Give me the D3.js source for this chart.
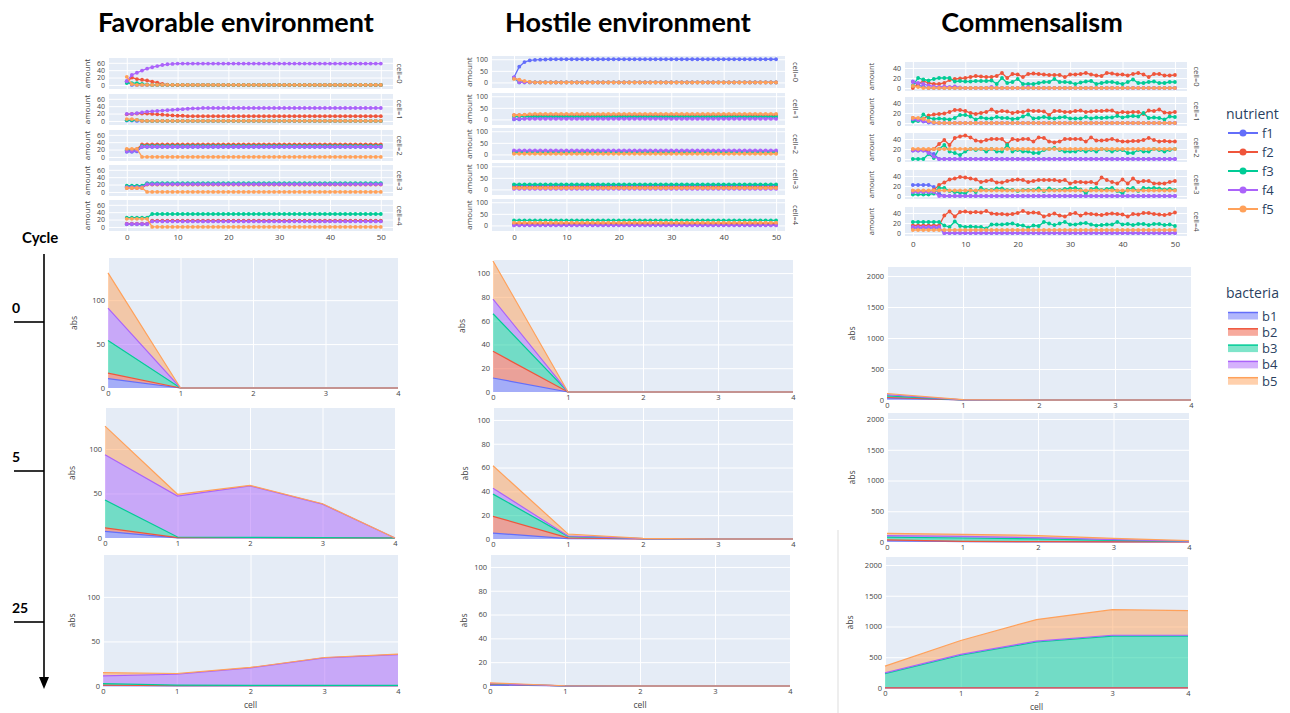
<!DOCTYPE html>
<html>
<head>
<meta charset="utf-8">
<script src="https://cdn.jsdelivr.net/npm/d3@7"></script>
<style>
  body { margin: 0; background: #fff; }
  svg { display: block; font-family: "Open Sans", sans-serif; }
</style>
</head>
<body>
<svg id="chart" width="1290" height="713"></svg>
<script>
// ---------- data ----------
const nutrients = ["f1", "f2", "f3", "f4", "f5"];
const bacteria = ["b1", "b2", "b3", "b4", "b5"];
const cells = [0, 1, 2, 3, 4];
const colors = ["#636efa", "#EF553B", "#00cc96", "#ab63fa", "#FFA15A"];
const envTitles = ["Favorable environment", "Hostile environment", "Commensalism"];
const cycleLabels = ["0", "5", "25"];

// nutrient amount per time step (0..50), one array per nutrient f1..f5
const favCell0 = [
  [10,0,0,0,0,0,0,0,0,0, 0,0,0,0,0,0,0,0,0,0, 0,0,0,0,0,0,0,0,0,0, 0,0,0,0,0,0,0,0,0,0, 0,0,0,0,0,0,0,0,0,0, 0],
  [8,20,16,14,12,9,6,3,1,0, 0,0,0,0,0,0,0,0,0,0, 0,0,0,0,0,0,0,0,0,0, 0,0,0,0,0,0,0,0,0,0, 0,0,0,0,0,0,0,0,0,0, 0],
  [5,5,5,3,1,0,0,0,0,0, 0,0,0,0,0,0,0,0,0,0, 0,0,0,0,0,0,0,0,0,0, 0,0,0,0,0,0,0,0,0,0, 0,0,0,0,0,0,0,0,0,0, 0],
  [10,27,33,39,44,48,51,54,56,57, 58,58,58,58,58,58,58,58,58,58, 58,58,58,58,58,58,58,58,58,58, 58,58,58,58,58,58,58,58,58,58, 58,58,58,58,58,58,58,58,58,58, 58],
  [22,2,0,0,0,0,0,0,0,0, 0,0,0,0,0,0,0,0,0,0, 0,0,0,0,0,0,0,0,0,0, 0,0,0,0,0,0,0,0,0,0, 0,0,0,0,0,0,0,0,0,0, 0]
];
const favCell1 = [
  [1,1,0,0,0,0,0,0,0,0, 0,0,0,0,0,0,0,0,0,0, 0,0,0,0,0,0,0,0,0,0, 0,0,0,0,0,0,0,0,0,0, 0,0,0,0,0,0,0,0,0,0, 0],
  [18,19,20,20,20,19,18,17,16,15, 14,14,13,13,13,13,13,13,13,13, 13,13,13,13,13,13,13,13,13,13, 13,13,13,13,13,13,13,13,13,13, 13,13,13,13,13,13,13,13,13,13, 13],
  [2,2,3,1,0,0,0,0,0,0, 0,0,0,0,0,0,0,0,0,0, 0,0,0,0,0,0,0,0,0,0, 0,0,0,0,0,0,0,0,0,0, 0,0,0,0,0,0,0,0,0,0, 0],
  [19,19,21,23,25,26,27,28,29,30, 31,32,33,34,34,35,35,35,35,35, 35,35,35,35,35,35,35,35,35,35, 35,35,35,35,35,35,35,35,35,35, 35,35,35,35,35,35,35,35,35,35, 35],
  [5,5,3,0,0,0,0,0,0,0, 0,0,0,0,0,0,0,0,0,0, 0,0,0,0,0,0,0,0,0,0, 0,0,0,0,0,0,0,0,0,0, 0,0,0,0,0,0,0,0,0,0, 0]
];
const favCell2 = [
  [14,14,15,27,27,27,27,27,27,27, 27,27,27,27,27,27,27,27,27,27, 27,27,27,27,27,27,27,27,27,27, 27,27,27,27,27,27,27,27,27,27, 27,27,27,27,27,27,27,27,27,27, 27],
  [20,20,21,34,34,34,34,34,34,34, 34,34,34,34,34,34,34,34,34,34, 34,34,34,34,34,34,34,34,34,34, 34,34,34,34,34,34,34,34,34,34, 34,34,34,34,34,34,34,34,34,34, 34],
  [18,18,18,30,30,30,30,30,30,30, 30,30,30,30,30,30,30,30,30,30, 30,30,30,30,30,30,30,30,30,30, 30,30,30,30,30,30,30,30,30,30, 30,30,30,30,30,30,30,30,30,30, 30],
  [16,16,17,28,28,28,28,28,28,28, 28,28,28,28,28,28,28,28,28,28, 28,28,28,28,28,28,28,28,28,28, 28,28,28,28,28,28,28,28,28,28, 28,28,28,28,28,28,28,28,28,28, 28],
  [22,22,22,0,0,0,0,0,0,0, 0,0,0,0,0,0,0,0,0,0, 0,0,0,0,0,0,0,0,0,0, 0,0,0,0,0,0,0,0,0,0, 0,0,0,0,0,0,0,0,0,0, 0]
];
const favCell3 = [
  [15,15,15,15,22,22,22,22,22,22, 22,22,22,22,22,22,22,22,22,22, 22,22,22,22,22,22,22,22,22,22, 22,22,22,22,22,22,22,22,22,22, 22,22,22,22,22,22,22,22,22,22, 22],
  [11,11,11,11,20,20,20,20,20,20, 20,20,20,20,20,20,20,20,20,20, 20,20,20,20,20,20,20,20,20,20, 20,20,20,20,20,20,20,20,20,20, 20,20,20,20,20,20,20,20,20,20, 20],
  [17,17,17,17,24,24,24,24,24,24, 24,24,24,24,24,24,24,24,24,24, 24,24,24,24,24,24,24,24,24,24, 24,24,24,24,24,24,24,24,24,24, 24,24,24,24,24,24,24,24,24,24, 24],
  [13,13,13,13,21,21,21,21,21,21, 21,21,21,21,21,21,21,21,21,21, 21,21,21,21,21,21,21,21,21,21, 21,21,21,21,21,21,21,21,21,21, 21,21,21,21,21,21,21,21,21,21, 21],
  [11,11,11,11,0,0,0,0,0,0, 0,0,0,0,0,0,0,0,0,0, 0,0,0,0,0,0,0,0,0,0, 0,0,0,0,0,0,0,0,0,0, 0,0,0,0,0,0,0,0,0,0, 0]
];
const favCell4 = [
  [7,7,7,7,7,16,16,16,16,16, 16,16,16,16,16,16,16,16,16,16, 16,16,16,16,16,16,16,16,16,16, 16,16,16,16,16,16,16,16,16,16, 16,16,16,16,16,16,16,16,16,16, 16],
  [9,9,9,9,9,17,17,17,17,17, 17,17,17,17,17,17,17,17,17,17, 17,17,17,17,17,17,17,17,17,17, 17,17,17,17,17,17,17,17,17,17, 17,17,17,17,17,17,17,17,17,17, 17],
  [25,25,25,25,25,35,35,35,35,35, 35,35,35,35,35,35,35,35,35,35, 35,35,35,35,35,35,35,35,35,35, 35,35,35,35,35,35,35,35,35,35, 35,35,35,35,35,35,35,35,35,35, 35],
  [8,8,8,8,8,15,15,15,15,15, 15,15,15,15,15,15,15,15,15,15, 15,15,15,15,15,15,15,15,15,15, 15,15,15,15,15,15,15,15,15,15, 15,15,15,15,15,15,15,15,15,15, 15],
  [22,22,22,22,22,0,0,0,0,0, 0,0,0,0,0,0,0,0,0,0, 0,0,0,0,0,0,0,0,0,0, 0,0,0,0,0,0,0,0,0,0, 0,0,0,0,0,0,0,0,0,0, 0]
];

const hosCell0 = [
  [22,68,88,95,97,98,99,100,100,100, 100,100,100,100,100,100,100,100,100,100, 100,100,100,100,100,100,100,100,100,100, 100,100,100,100,100,100,100,100,100,100, 100,100,100,100,100,100,100,100,100,100, 100],
  [18,10,4,1,0,0,0,0,0,0, 0,0,0,0,0,0,0,0,0,0, 0,0,0,0,0,0,0,0,0,0, 0,0,0,0,0,0,0,0,0,0, 0,0,0,0,0,0,0,0,0,0, 0],
  [18,0,0,0,0,0,0,0,0,0, 0,0,0,0,0,0,0,0,0,0, 0,0,0,0,0,0,0,0,0,0, 0,0,0,0,0,0,0,0,0,0, 0,0,0,0,0,0,0,0,0,0, 0],
  [22,0,0,0,0,0,0,0,0,0, 0,0,0,0,0,0,0,0,0,0, 0,0,0,0,0,0,0,0,0,0, 0,0,0,0,0,0,0,0,0,0, 0,0,0,0,0,0,0,0,0,0, 0],
  [15,12,6,2,0,0,0,0,0,0, 0,0,0,0,0,0,0,0,0,0, 0,0,0,0,0,0,0,0,0,0, 0,0,0,0,0,0,0,0,0,0, 0,0,0,0,0,0,0,0,0,0, 0]
];
const hosCell1 = [
  [0,0,5,6,7,7,7,7,7,7, 7,7,7,7,7,7,7,7,7,7, 7,7,7,7,7,7,7,7,7,7, 7,7,7,7,7,7,7,7,7,7, 7,7,7,7,7,7,7,7,7,7, 7],
  [19,19,19,19,19,19,19,19,19,19, 19,19,19,19,19,19,19,19,19,19, 19,19,19,19,19,19,19,19,19,19, 19,19,19,19,19,19,19,19,19,19, 19,19,19,19,19,19,19,19,19,19, 19],
  [12,12,12,12,12,12,12,12,12,12, 12,12,12,12,12,12,12,12,12,12, 12,12,12,12,12,12,12,12,12,12, 12,12,12,12,12,12,12,12,12,12, 12,12,12,12,12,12,12,12,12,12, 12],
  [2,2,2,2,2,2,2,2,2,2, 2,2,2,2,2,2,2,2,2,2, 2,2,2,2,2,2,2,2,2,2, 2,2,2,2,2,2,2,2,2,2, 2,2,2,2,2,2,2,2,2,2, 2],
  [18,19,21,23,24,24,24,24,24,24, 24,24,24,24,24,24,24,24,24,24, 24,24,24,24,24,24,24,24,24,24, 24,24,24,24,24,24,24,24,24,24, 24,24,24,24,24,24,24,24,24,24, 24]
];
const hosCell2 = [
  [14,14,14,14,14,14,14,14,14,14, 14,14,14,14,14,14,14,14,14,14, 14,14,14,14,14,14,14,14,14,14, 14,14,14,14,14,14,14,14,14,14, 14,14,14,14,14,14,14,14,14,14, 14],
  [6,6,6,6,6,6,6,6,6,6, 6,6,6,6,6,6,6,6,6,6, 6,6,6,6,6,6,6,6,6,6, 6,6,6,6,6,6,6,6,6,6, 6,6,6,6,6,6,6,6,6,6, 6],
  [10,10,10,10,10,10,10,10,10,10, 10,10,10,10,10,10,10,10,10,10, 10,10,10,10,10,10,10,10,10,10, 10,10,10,10,10,10,10,10,10,10, 10,10,10,10,10,10,10,10,10,10, 10],
  [17,17,17,17,17,17,17,17,17,17, 17,17,17,17,17,17,17,17,17,17, 17,17,17,17,17,17,17,17,17,17, 17,17,17,17,17,17,17,17,17,17, 17,17,17,17,17,17,17,17,17,17, 17],
  [3,3,3,3,3,3,3,3,3,3, 3,3,3,3,3,3,3,3,3,3, 3,3,3,3,3,3,3,3,3,3, 3,3,3,3,3,3,3,3,3,3, 3,3,3,3,3,3,3,3,3,3, 3]
];
const hosCell3 = [
  [18,18,18,18,18,18,18,18,18,18, 18,18,18,18,18,18,18,18,18,18, 18,18,18,18,18,18,18,18,18,18, 18,18,18,18,18,18,18,18,18,18, 18,18,18,18,18,18,18,18,18,18, 18],
  [10,10,10,10,10,10,10,10,10,10, 10,10,10,10,10,10,10,10,10,10, 10,10,10,10,10,10,10,10,10,10, 10,10,10,10,10,10,10,10,10,10, 10,10,10,10,10,10,10,10,10,10, 10],
  [22,22,22,22,22,22,22,22,22,22, 22,22,22,22,22,22,22,22,22,22, 22,22,22,22,22,22,22,22,22,22, 22,22,22,22,22,22,22,22,22,22, 22,22,22,22,22,22,22,22,22,22, 22],
  [2,2,2,2,2,2,2,2,2,2, 2,2,2,2,2,2,2,2,2,2, 2,2,2,2,2,2,2,2,2,2, 2,2,2,2,2,2,2,2,2,2, 2,2,2,2,2,2,2,2,2,2, 2],
  [6,6,6,6,6,6,6,6,6,6, 6,6,6,6,6,6,6,6,6,6, 6,6,6,6,6,6,6,6,6,6, 6,6,6,6,6,6,6,6,6,6, 6,6,6,6,6,6,6,6,6,6, 6]
];
const hosCell4 = [
  [3,3,3,3,3,3,3,3,3,3, 3,3,3,3,3,3,3,3,3,3, 3,3,3,3,3,3,3,3,3,3, 3,3,3,3,3,3,3,3,3,3, 3,3,3,3,3,3,3,3,3,3, 3],
  [8,8,8,8,8,8,8,8,8,8, 8,8,8,8,8,8,8,8,8,8, 8,8,8,8,8,8,8,8,8,8, 8,8,8,8,8,8,8,8,8,8, 8,8,8,8,8,8,8,8,8,8, 8],
  [22,22,22,22,22,22,22,22,22,22, 22,22,22,22,22,22,22,22,22,22, 22,22,22,22,22,22,22,22,22,22, 22,22,22,22,22,22,22,22,22,22, 22,22,22,22,22,22,22,22,22,22, 22],
  [0,0,0,0,0,0,0,0,0,0, 0,0,0,0,0,0,0,0,0,0, 0,0,0,0,0,0,0,0,0,0, 0,0,0,0,0,0,0,0,0,0, 0,0,0,0,0,0,0,0,0,0, 0],
  [12,12,12,12,12,12,12,12,12,12, 12,12,12,12,12,12,12,12,12,12, 12,12,12,12,12,12,12,12,12,12, 12,12,12,12,12,12,12,12,12,12, 12,12,12,12,12,12,12,12,12,12, 12]
];

const comCell0 = [
  [13,5,3,0,0,0,0,0,0,0, 0,0,0,0,0,0,0,0,0,0, 0,0,0,0,0,0,0,0,0,0, 0,0,0,0,0,0,0,0,0,0, 0,0,0,0,0,0,0,0,0,0, 0],
  [0,8,14,10,8,8,10,16,18,19, 20,22,24,23,22,22,24,30,20,28, 27,22,28,29,28,27,26,26,26,22, 27,27,28,30,27,25,24,30,29,27, 27,25,28,30,27,22,28,28,25,25, 26],
  [5,20,17,15,18,20,20,20,13,14, 13,13,14,14,14,15,8,20,10,12, 18,8,8,8,10,12,12,18,12,12, 11,8,11,13,14,8,10,12,12,10, 8,12,17,10,10,12,13,10,10,12, 12],
  [12,10,8,5,3,2,3,2,3,1, 0,0,0,0,0,2,0,0,0,0, 0,0,2,0,0,0,0,0,0,0, 0,0,0,0,0,0,0,0,0,0, 0,0,0,0,0,0,0,0,0,0, 0],
  [4,2,0,0,0,0,0,0,0,0, 0,0,0,0,0,0,0,0,0,0, 0,0,0,0,0,0,0,0,0,0, 0,0,0,0,0,0,0,0,0,0, 0,0,0,0,0,0,0,0,0,0, 0]
];
const comCell1 = [
  [5,6,3,1,0,0,0,0,0,0, 0,0,0,0,0,0,0,0,0,0, 0,0,0,0,0,0,0,0,0,0, 0,0,0,0,0,0,0,0,0,0, 0,0,0,0,0,0,0,0,0,0, 0],
  [10,8,8,15,17,18,19,22,26,26, 24,20,18,20,22,27,22,24,23,20, 22,22,25,24,24,23,16,24,24,22, 22,24,25,22,23,24,24,25,25,20, 22,21,22,22,18,25,24,27,21,20, 22],
  [3,4,17,10,8,9,8,7,10,16, 16,13,7,11,9,9,12,10,10,8, 9,13,17,9,10,12,10,9,11,12, 9,9,9,12,9,11,10,11,11,14, 11,13,14,13,20,10,11,10,7,13, 12],
  [8,6,4,2,1,0,0,0,0,0, 0,0,0,0,0,0,0,0,0,0, 0,0,0,0,0,0,0,0,0,0, 0,0,0,0,0,0,0,0,0,0, 0,0,0,0,0,0,0,0,0,0, 0],
  [10,10,8,4,1,0,0,0,0,0, 0,0,0,0,0,0,0,0,0,0, 0,0,0,0,0,0,0,0,0,0, 0,0,0,0,0,0,0,0,0,0, 0,0,0,0,0,0,0,0,0,0, 0]
];
const comCell2 = [
  [17,17,17,14,10,0,0,0,0,0, 0,0,0,0,0,0,0,0,0,0, 0,0,0,0,0,0,0,0,0,0, 0,0,0,0,0,0,0,0,0,0, 0,0,0,0,0,0,0,0,0,0, 0],
  [18,18,18,18,20,30,38,28,42,45, 47,43,37,35,38,40,40,40,30,40, 38,40,40,35,43,42,35,33,35,40, 40,40,40,35,43,37,37,38,40,37, 35,35,36,36,38,42,38,35,36,35, 35],
  [0,0,0,10,2,20,28,15,12,8, 15,20,18,20,15,20,15,15,28,15, 18,15,15,12,12,18,20,22,18,15, 15,15,18,15,18,15,20,18,15,18, 18,12,12,18,15,15,20,18,15,18, 20],
  [17,17,17,12,5,0,0,0,0,0, 0,0,0,0,0,0,0,0,0,0, 0,0,0,0,0,0,0,0,0,0, 0,0,0,0,0,0,0,0,0,0, 0,0,0,0,0,0,0,0,0,0, 0],
  [20,20,20,20,20,20,20,20,20,20, 20,20,20,20,20,20,20,20,20,20, 20,20,20,20,20,20,20,20,20,20, 20,20,20,20,20,20,20,20,20,20, 20,20,20,20,20,20,20,20,20,20, 20]
];
const comCell3 = [
  [22,22,22,22,18,5,0,0,0,0, 0,0,0,0,0,0,0,0,0,0, 0,0,0,0,0,0,0,0,0,0, 0,0,0,0,0,0,0,0,0,0, 0,0,0,0,0,0,0,0,0,0, 0],
  [10,10,10,10,12,22,27,33,35,38, 37,35,33,28,30,32,27,27,30,32, 33,32,28,30,32,32,32,32,30,32, 25,28,28,27,28,25,37,32,28,25, 33,25,35,28,30,30,25,25,25,28, 30],
  [3,3,3,3,5,16,16,10,8,7, 5,12,8,16,12,12,15,15,12,12, 10,12,12,12,15,10,15,12,12,14, 15,16,13,5,14,16,12,14,16,10, 5,14,16,10,16,15,16,15,13,14, 12],
  [8,8,8,8,8,0,0,0,0,0, 0,0,0,0,0,0,0,0,0,0, 0,0,0,0,0,0,0,0,0,0, 0,0,0,0,0,0,0,0,0,0, 0,0,0,0,0,0,0,0,0,0, 0],
  [11,11,11,11,11,11,11,11,11,11, 11,11,11,11,11,11,11,11,11,11, 11,11,11,11,11,11,11,11,11,11, 11,11,11,11,11,11,11,11,11,11, 11,11,11,11,11,11,11,11,11,11, 11]
];
const comCell4 = [
  [10,10,10,10,10,10,0,0,0,0, 0,0,0,0,0,0,0,0,0,0, 0,0,0,0,0,0,0,0,0,0, 0,0,0,0,0,0,0,0,0,0, 0,0,0,0,0,0,0,0,0,0, 0],
  [15,15,15,15,15,15,35,43,33,42, 43,41,42,41,44,39,38,38,37,38, 40,44,40,41,40,33,36,39,35,33, 38,40,35,39,38,37,36,38,39,38, 37,33,38,37,40,40,38,37,36,38, 41],
  [22,22,22,22,22,22,15,12,23,14, 12,13,12,12,9,17,17,17,18,19, 16,15,11,15,14,22,19,16,19,22, 17,17,19,20,17,15,16,17,17,22, 17,18,16,18,18,16,18,18,16,17, 14],
  [12,12,12,12,12,12,0,0,0,0, 0,0,0,0,0,0,0,0,0,0, 0,0,0,0,0,0,0,0,0,0, 0,0,0,0,0,0,0,0,0,0, 0,0,0,0,0,0,0,0,0,0, 0],
  [6,6,6,6,6,6,6,6,6,6, 6,6,6,6,6,6,6,6,6,6, 6,6,6,6,6,6,6,6,6,6, 6,6,6,6,6,6,6,6,6,6, 6,6,6,6,6,6,6,6,6,6, 6]
];

// bacteria abundance per cell (0..4), one array per bacterium b1..b5
const favCycle0 = [[10.6,0,0,0,0],[6.4,0,0,0,0],[37,0,0,0,0],[37,0,0,0,0],[40,0,0,0,0]];
const favCycle5 = [[7.5,0.2,0.2,0.1,0],[3.8,0.2,0.2,0.1,0],[31.3,0.7,0.3,0.3,0],[51,46,57.8,37.5,0],[32,2,0.5,0.5,0]];
const favCycle25 = [[0.5,0.2,0.2,0.2,0.2],[0.5,0.1,0.1,0.1,0.1],[1.6,0.6,0.5,0.5,0.5],[8.7,12.3,19.5,30.7,34.5],[3.7,0.8,0.5,0.5,0.5]];
const hosCycle0 = [[11.8,0,0,0,0],[22.4,0,0,0,0],[31.6,0,0,0,0],[12.4,0,0,0,0],[32,0,0,0,0]];
const hosCycle5 = [[5,0.3,0.05,0,0],[14,0.7,0.1,0,0],[18.7,1.2,0.1,0,0],[5,0.3,0.05,0,0],[18.8,1.7,0.2,0,0]];
const hosCycle25 = [[0.8,0.05,0,0,0],[0.8,0.05,0,0,0],[0.3,0.02,0,0,0],[0.2,0,0,0,0],[0.6,0.08,0,0,0]];
const comCycle0 = [[30,1,0,0,0],[10,0.5,0,0,0],[25,1,0,0,0],[20,1,0,0,0],[20,2,0,0,0]];
const comCycle5 = [[20,5,2,1,0.5],[15,5,3,2,1],[45,55,45,25,8],[25,25,20,10,4],[35,35,35,22,8]];
const comCycle25 = [[1,1,1,1,1],[2,2,2,2,2],[230,530,745,840,840],[12,15,15,15,15],[110,225,350,415,400]];

const stepTicks = [0, 10, 20, 30, 40, 50];

// ---------- layout ----------
const svg = d3.select("#chart");
const bg = "#e5ecf6";
const tickColor = "#444";
const intFmt = d3.format("d");

const nutBlocks = [
  { cells: [favCell0, favCell1, favCell2, favCell3, favCell4], left: 109, right: 393, xDom: [-3.5, 52.4],
    tops: [58, 94, 130, 165, 200], h: 31, yDom: [-11, 73], yTicks: [0, 20, 40, 60], labelX: 87, labelSize: 8, facetX: 400, xLabelY: 240 },
  { cells: [hosCell0, hosCell1, hosCell2, hosCell3, hosCell4], left: 492, right: 785, xDom: [-4.2, 51.7],
    tops: [56, 93, 128, 163, 199], h: 32, yDom: [-24, 114], yTicks: [0, 50, 100], labelX: 469, labelSize: 8, facetX: 796, xLabelY: 240 },
  { cells: [comCell0, comCell1, comCell2, comCell3, comCell4], left: 905, right: 1187, xDom: [-1.5, 52.3],
    tops: [62, 97, 133, 170, 207], h: 29, yDom: [-6, 52], yTicks: [0, 20, 40], labelX: 871, labelSize: 7.5, facetX: 1197, xLabelY: 247 }
];

const areaPanels = [
  { data: favCycle0, left: 108, right: 398, top: 258, bottom: 388, yMax: 148, yTicks: [0, 50, 100], labelX: 74 },
  { data: favCycle5, left: 105, right: 395, top: 408, bottom: 538, yMax: 146, yTicks: [0, 50, 100], labelX: 72 },
  { data: favCycle25, left: 103, right: 398, top: 555, bottom: 686, yMax: 147, yTicks: [0, 50, 100], labelX: 72, xTitle: true },
  { data: hosCycle0, left: 493, right: 793, top: 260, bottom: 392, yMax: 111, yTicks: [0, 20, 40, 60, 80, 100], labelX: 462 },
  { data: hosCycle5, left: 493, right: 793, top: 408, bottom: 539, yMax: 110, yTicks: [0, 20, 40, 60, 80, 100], labelX: 465 },
  { data: hosCycle25, left: 490, right: 790, top: 555, bottom: 686, yMax: 110, yTicks: [0, 20, 40, 60, 80, 100], labelX: 464, xTitle: true },
  { data: comCycle0, left: 887, right: 1191, top: 267, bottom: 400, yMax: 2145, yTicks: [0, 500, 1000, 1500, 2000], labelX: 852 },
  { data: comCycle5, left: 887, right: 1189, top: 413, bottom: 542, yMax: 2098, yTicks: [0, 500, 1000, 1500, 2000], labelX: 852 },
  { data: comCycle25, left: 885, right: 1188, top: 557, bottom: 688, yMax: 2130, yTicks: [0, 500, 1000, 1500, 2000], labelX: 850, xTitle: true }
];

function styleGrid(g) {
  g.select(".domain").remove();
  g.selectAll(".tick line").attr("stroke", "#fff").attr("stroke-width", 1);
  g.selectAll(".tick text").attr("fill", tickColor);
}

// ---------- nutrient line panels ----------
nutBlocks.forEach(block => {
  const x = d3.scaleLinear().domain(block.xDom).range([block.left, block.right]);
  const w = block.right - block.left;

  block.cells.forEach((series, ci) => {
    const top = block.tops[ci];
    const y = d3.scaleLinear().domain(block.yDom).range([top + block.h, top]);
    const g = svg.append("g");

    g.append("rect")
      .attr("x", block.left).attr("y", top)
      .attr("width", w).attr("height", block.h)
      .attr("fill", bg);

    g.append("g")
      .attr("transform", "translate(0," + (top + block.h) + ")")
      .call(d3.axisBottom(x).tickValues(stepTicks).tickSize(-block.h).tickFormat(""))
      .call(styleGrid);

    g.append("g")
      .attr("transform", "translate(" + block.left + ",0)")
      .call(d3.axisLeft(y).tickValues(block.yTicks).tickSize(-w).tickPadding(4).tickFormat(intFmt))
      .call(styleGrid)
      .attr("font-size", 7).attr("font-family", "Open Sans, sans-serif");

    const line = d3.line().x((d, i) => x(i)).y(d => y(d));
    series.forEach((vals, si) => {
      g.append("path")
        .attr("d", line(vals))
        .attr("fill", "none")
        .attr("stroke", colors[si])
        .attr("stroke-width", 1.3);
      g.append("g").selectAll("circle")
        .data(vals)
        .enter()
        .append("circle")
        .attr("cx", (d, i) => x(i))
        .attr("cy", d => y(d))
        .attr("r", 1.9)
        .attr("fill", colors[si]);
    });

    g.append("text")
      .attr("transform", "translate(" + block.labelX + "," + (top + block.h / 2) + ") rotate(-90)")
      .attr("text-anchor", "middle")
      .attr("dy", "0.35em")
      .attr("font-size", block.labelSize)
      .attr("fill", tickColor)
      .text("amount");

    g.append("text")
      .attr("transform", "translate(" + block.facetX + "," + (top + block.h / 2) + ") rotate(90)")
      .attr("text-anchor", "middle")
      .attr("dy", "0.35em")
      .attr("font-size", 7.5)
      .attr("fill", tickColor)
      .text("cell=" + cells[ci]);
  });

  svg.append("g")
    .attr("transform", "translate(0," + (block.xLabelY - 6) + ")")
    .call(d3.axisBottom(x).tickValues(stepTicks).tickSize(0).tickPadding(0).tickFormat(intFmt))
    .call(g => g.select(".domain").remove())
    .attr("font-size", 8).attr("font-family", "Open Sans, sans-serif")
    .selectAll("text").attr("fill", tickColor);
});

// ---------- stacked area panels ----------
areaPanels.forEach(p => {
  const rows = cells.map(c => {
    const r = { cell: c };
    bacteria.forEach((b, bi) => { r[b] = p.data[bi][c]; });
    return r;
  });
  const stacked = d3.stack().keys(bacteria)(rows);

  const x = d3.scaleLinear().domain([0, 4]).range([p.left, p.right]);
  const y = d3.scaleLinear().domain([0, p.yMax]).range([p.bottom, p.top]);
  const w = p.right - p.left, h = p.bottom - p.top;
  const g = svg.append("g");

  g.append("rect").attr("x", p.left).attr("y", p.top)
    .attr("width", w).attr("height", h).attr("fill", bg);

  g.append("g")
    .attr("transform", "translate(0," + p.bottom + ")")
    .call(d3.axisBottom(x).tickValues(cells).tickSize(-h).tickPadding(3).tickFormat(intFmt))
    .call(styleGrid)
    .attr("font-size", 7.5).attr("font-family", "Open Sans, sans-serif");

  g.append("g")
    .attr("transform", "translate(" + p.left + ",0)")
    .call(d3.axisLeft(y).tickValues(p.yTicks).tickSize(-w).tickPadding(3).tickFormat(intFmt))
    .call(styleGrid)
    .attr("font-size", 7.5).attr("font-family", "Open Sans, sans-serif");

  const area = d3.area()
    .x(d => x(d.data.cell))
    .y0(d => y(d[0]))
    .y1(d => y(d[1]));
  const topLine = d3.line()
    .x(d => x(d.data.cell))
    .y(d => y(d[1]));

  g.selectAll(".layer")
    .data(stacked)
    .enter()
    .append("path")
    .attr("d", area)
    .attr("fill", (d, i) => colors[i])
    .attr("fill-opacity", 0.5);

  g.selectAll(".edge")
    .data(stacked)
    .enter()
    .append("path")
    .attr("d", topLine)
    .attr("fill", "none")
    .attr("stroke", (d, i) => colors[i])
    .attr("stroke-width", 1.2);

  g.append("text")
    .attr("transform", "translate(" + p.labelX + "," + (p.top + h / 2) + ") rotate(-90)")
    .attr("text-anchor", "middle")
    .attr("dy", "0.35em")
    .attr("font-size", 8.5)
    .attr("fill", tickColor)
    .text("abs");

  if (p.xTitle) {
    g.append("text")
      .attr("x", (p.left + p.right) / 2)
      .attr("y", p.bottom + 22)
      .attr("text-anchor", "middle")
      .attr("font-size", 8.5)
      .attr("fill", tickColor)
      .text("cell");
  }
});

// ---------- titles ----------
const titleX = [236, 628, 1032];
svg.selectAll(".title")
  .data(envTitles)
  .enter()
  .append("text")
  .attr("x", (d, i) => titleX[i])
  .attr("y", 32)
  .attr("text-anchor", "middle")
  .attr("font-family", "Lato, sans-serif")
  .attr("font-weight", "bold")
  .attr("font-size", 27)
  .attr("fill", "#000")
  .text(d => d);

// ---------- cycle axis ----------
const cyc = svg.append("g");
cyc.append("text").attr("x", 22).attr("y", 243)
  .attr("font-family", "Lato, sans-serif").attr("font-weight", "bold").attr("font-size", 15)
  .text("Cycle");
cyc.append("line").attr("x1", 44).attr("x2", 44).attr("y1", 254).attr("y2", 680)
  .attr("stroke", "#000").attr("stroke-width", 1.6);
cyc.append("path").attr("d", "M44,689 L39,677 L49,677 Z").attr("fill", "#000");
const cycleY = [322, 471, 622];
cycleLabels.forEach((lab, i) => {
  cyc.append("line").attr("x1", 14).attr("x2", 44).attr("y1", cycleY[i]).attr("y2", cycleY[i])
    .attr("stroke", "#000").attr("stroke-width", 1.6);
  cyc.append("text").attr("x", 12).attr("y", cycleY[i] - 9)
    .attr("font-family", "Lato, sans-serif").attr("font-weight", "bold").attr("font-size", 14)
    .text(lab);
});

// thin border from the pasted screenshot
svg.append("line").attr("x1", 838).attr("x2", 838).attr("y1", 530).attr("y2", 713)
  .attr("stroke", "#ddd").attr("stroke-width", 1);

// ---------- legends ----------
const legN = svg.append("g").attr("font-family", "Open Sans, sans-serif").attr("fill", "#2a3f5f");
legN.append("text").attr("x", 1226).attr("y", 119).attr("font-size", 14).text("nutrient");
nutrients.forEach((n, i) => {
  const yy = 133 + i * 19;
  legN.append("line").attr("x1", 1228).attr("x2", 1258).attr("y1", yy).attr("y2", yy)
    .attr("stroke", colors[i]).attr("stroke-width", 2);
  legN.append("circle").attr("cx", 1243).attr("cy", yy).attr("r", 3.5).attr("fill", colors[i]);
  legN.append("text").attr("x", 1262).attr("y", yy).attr("dy", "0.35em").attr("font-size", 13).text(n);
});

const legB = svg.append("g").attr("font-family", "Open Sans, sans-serif").attr("fill", "#2a3f5f");
legB.append("text").attr("x", 1226).attr("y", 298).attr("font-size", 14).text("bacteria");
bacteria.forEach((b, i) => {
  const yy = 316 + i * 16.3;
  legB.append("rect").attr("x", 1228).attr("y", yy - 3.5).attr("width", 30).attr("height", 7)
    .attr("fill", colors[i]).attr("fill-opacity", 0.5);
  legB.append("line").attr("x1", 1228).attr("x2", 1258).attr("y1", yy - 3.5).attr("y2", yy - 3.5)
    .attr("stroke", colors[i]).attr("stroke-width", 1.5);
  legB.append("text").attr("x", 1262).attr("y", yy).attr("dy", "0.35em").attr("font-size", 13).text(b);
});
</script>
</body>
</html>
